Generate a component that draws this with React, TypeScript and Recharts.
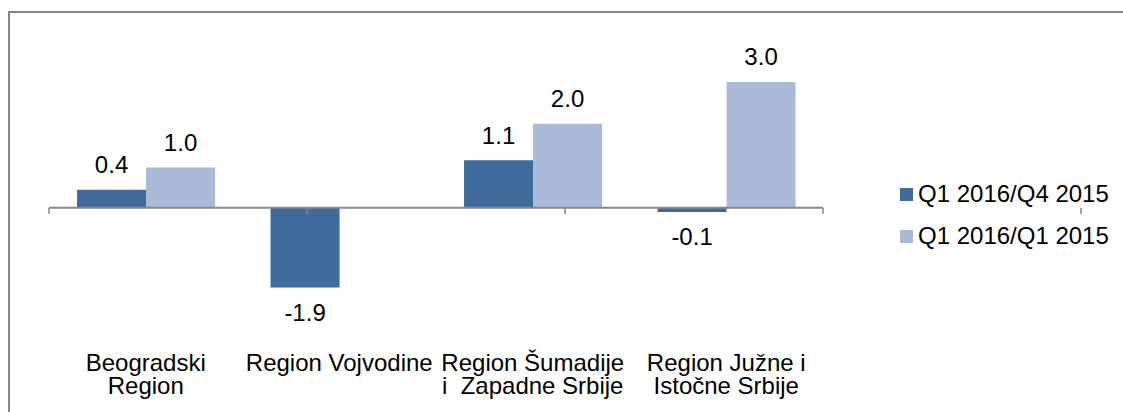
import React from 'react';
import { BarChart, Bar, XAxis, YAxis, ReferenceLine, LabelList, Legend } from 'recharts';

const categories = [
  'Beogradski\nRegion',
  'Region Vojvodine',
  'Region Šumadije\ni  Zapadne Srbije',
  'Region Južne i\nIstočne Srbije',
];
const seriesNames = ['Q1 2016/Q4 2015', 'Q1 2016/Q1 2015'];
const q4Values = [0.43, -1.9, 1.13, -0.1];
const q1Values: (number | null)[] = [0.96, null, 2.0, 3.0];
const boundaryTicks = [0, 1, 2, 3, 4];

const data = categories.map((name, i) => ({ name, q4: q4Values[i], q1: q1Values[i] }));

const FONT = '"Liberation Sans", Arial, sans-serif';
const FS = 24;
const DARK = '#3F6A9C';
const LIGHT = '#AABAD8';
const AXIS = '#898989';

const CategoryTick = (props: any) => {
  const { x, y, payload } = props;
  const lines = String(payload.value).split('\n');
  return (
    <text x={x} y={y} textAnchor="middle" fontSize={FS} fill="#000" fontFamily={FONT} style={{ whiteSpace: 'pre' }}>
      {lines.map((l, i) => (
        <tspan key={i} x={x} dy={i === 0 ? 37 : 23.5}>
          {l}
        </tspan>
      ))}
    </text>
  );
};

const renderLegend = (props: any) => {
  const items = [...(props.payload || [])].sort(
    (a: any, b: any) => seriesNames.indexOf(a.value) - seriesNames.indexOf(b.value)
  );
  return (
    <div style={{ fontFamily: FONT, fontSize: FS, color: '#000' }}>
      {items.map((e: any, i: number) => (
        <div key={i} style={{ display: 'flex', alignItems: 'center', height: 42, whiteSpace: 'nowrap' }}>
          <span style={{ display: 'inline-block', width: 13, height: 13, background: e.color, marginRight: 5 }} />
          <span>{e.value}</span>
        </div>
      ))}
    </div>
  );
};

const fmt = (v: any) => (v == null ? '' : Number(v).toFixed(1));

export default function App() {
  return (
    <div style={{ position: 'absolute', left: 0, top: 0, width: 1123, height: 412, overflow: 'hidden', background: '#fff' }}>
      <div
        style={{
          position: 'absolute',
          left: 8,
          top: 11,
          width: 1300,
          height: 600,
          borderLeft: `2px solid #868686`,
          borderTop: `2px solid #868686`,
        }}
      />
      <div style={{ position: 'absolute', left: 0, top: 0 }}>
        <BarChart
          width={1123}
          height={412}
          data={data}
          margin={{ top: 40, right: 300, bottom: 18.5, left: 49 }}
          barCategoryGap="14.5%"
          barGap={0}
        >
          <XAxis
            dataKey="name"
            axisLine={false}
            tickLine={false}
            tickSize={0}
            tickMargin={0}
            interval={0}
            height={60}
            tick={<CategoryTick />}
          />
          <XAxis xAxisId="num" type="number" domain={[0, 4]} hide allowDataOverflow />
          <YAxis hide type="number" domain={[-3, 4]} allowDataOverflow />
          <Legend
            layout="vertical"
            align="center"
            verticalAlign="middle"
            content={renderLegend}
            wrapperStyle={{ left: 900, top: 173, width: 'auto' }}
          />
          <Bar dataKey="q4" name={seriesNames[0]} fill={DARK} isAnimationActive={false}>
            <LabelList dataKey="q4" position="top" offset={16.5} formatter={fmt} fontSize={FS} fill="#000" fontFamily={FONT} />
          </Bar>
          <Bar dataKey="q1" name={seriesNames[1]} fill={LIGHT} isAnimationActive={false}>
            <LabelList dataKey="q1" position="top" offset={16.5} formatter={fmt} fontSize={FS} fill="#000" fontFamily={FONT} />
          </Bar>
          <ReferenceLine y={0} stroke={AXIS} strokeWidth={2} />
          {boundaryTicks.map((t) => (
            <ReferenceLine
              key={t}
              xAxisId="num"
              segment={[
                { x: t, y: 0 },
                { x: t, y: -0.15 },
              ]}
              stroke={AXIS}
              strokeWidth={1.5}
              ifOverflow="visible"
            />
          ))}
        </BarChart>
      </div>
    </div>
  );
}
